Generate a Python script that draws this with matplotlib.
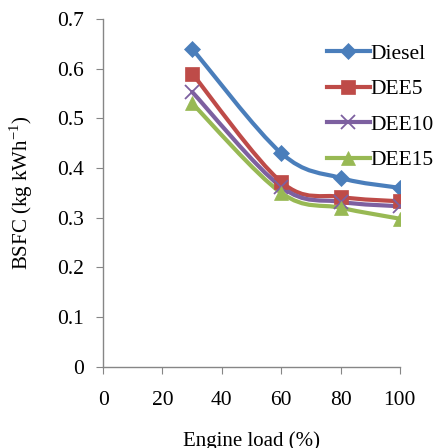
import numpy as np
import matplotlib.pyplot as plt
from matplotlib.path import Path
from matplotlib.patches import PathPatch
from matplotlib.lines import Line2D

plt.rcParams['font.family'] = ['Liberation Serif', 'DejaVu Serif']
plt.rcParams['mathtext.fontset'] = 'custom'
plt.rcParams['mathtext.rm'] = 'Liberation Serif'

load = [30, 60, 80, 100]
diesel = [0.64, 0.43, 0.38, 0.36]
dee5 = [0.59, 0.372, 0.342, 0.333]
dee10 = [0.553, 0.362, 0.332, 0.323]
dee15 = [0.53, 0.35, 0.32, 0.298]
names = ['Diesel', 'DEE5', 'DEE10', 'DEE15']

colors = ['#4A7EBB', '#BE4B48', '#7D60A0', '#98B954']
markers = ['D', 's', 'x', '^']
msizes = [8, 10, 10, 10]


def smooth_path(x, y, t=1 / 6):
    # cubic bezier through the points (Catmull-Rom style control points)
    pts = np.column_stack([x, y]).astype(float)
    verts = [pts[0]]
    codes = [Path.MOVETO]
    n = len(pts)
    for i in range(n - 1):
        p0 = pts[i - 1] if i > 0 else pts[i]
        p1, p2 = pts[i], pts[i + 1]
        p3 = pts[i + 2] if i + 2 < n else pts[i + 1]
        c1 = p1 + (p2 - p0) * t
        c2 = p2 - (p3 - p1) * t
        verts += [c1, c2, p2]
        codes += [Path.CURVE4] * 3
    return Path(verts, codes)


fig = plt.figure(figsize=(4.37, 4.48), dpi=100)
ax = fig.add_axes([0.236, 0.181, 0.679, 0.777])

handles = []
for ys, name, c, m, ms in zip([diesel, dee5, dee10, dee15], names, colors, markers, msizes):
    mew = 1.3 if m == 'x' else 0.5
    ax.add_patch(PathPatch(smooth_path(load, ys), fill=False, edgecolor=c, lw=3,
                           capstyle='round', zorder=2))
    ax.plot(load, ys, linestyle='none', marker=m, color=c, markersize=ms,
            markeredgewidth=mew, zorder=3)
    handles.append(Line2D([], [], color=c, lw=3, marker=m, markersize=ms,
                          markeredgewidth=mew))

ax.set_xlim(0, 100)
ax.set_ylim(0, 0.7)
ax.set_xticks(np.arange(0, 101, 20))
ax.set_yticks(np.arange(0, 0.71, 0.1))
ax.set_yticklabels(['0'] + ['%.1f' % v for v in np.arange(0.1, 0.71, 0.1)])

for s in ['top', 'right']:
    ax.spines[s].set_visible(False)
for s in ['left', 'bottom']:
    ax.spines[s].set_color('#868686')
    ax.spines[s].set_linewidth(1.0)
ax.tick_params(colors='#868686', labelcolor='black', labelsize=15.5, length=5, direction='out')
ax.tick_params(axis='x', pad=12)
ax.tick_params(axis='y', pad=9)

ax.set_ylabel('BSFC (kg kWh$^{-1}$)', fontsize=15, labelpad=16)
ax.set_xlabel('Engine load (%)', fontsize=15, labelpad=16)

fig.legend(handles, names, loc='upper left', bbox_to_anchor=(0.728, 0.922),
           frameon=False, fontsize=15.5, handlelength=2.0, handletextpad=0.05,
           labelspacing=0.72, borderaxespad=0)

fig.savefig('out.png', dpi=100)
